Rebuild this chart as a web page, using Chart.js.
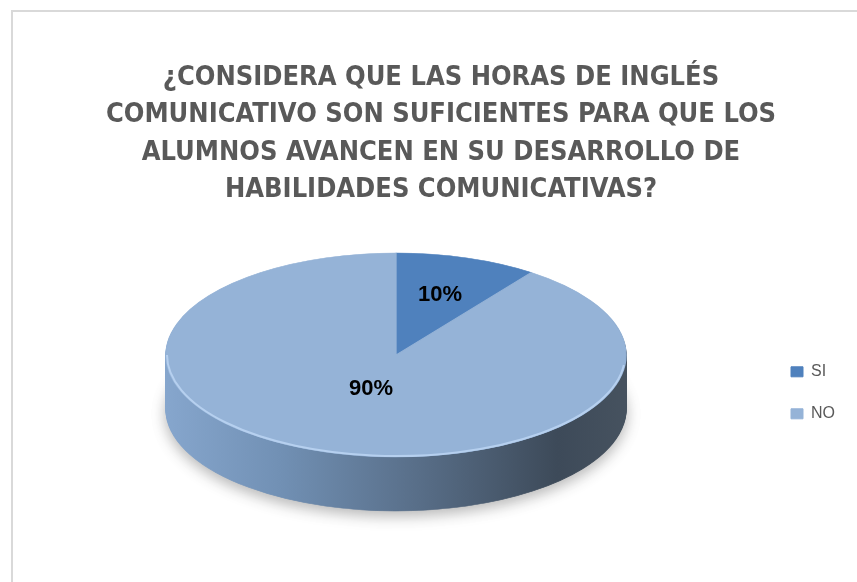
<!DOCTYPE html>
<html>
<head>
<meta charset="utf-8">
<script src="https://cdn.jsdelivr.net/npm/chart.js@4.4.1/dist/chart.umd.min.js"></script>
<style>
    html, body { margin: 0; padding: 0; background: #fff; overflow: hidden; }
    #frame {
        position: absolute;
        left: 11px;
        top: 10px;
        width: 860px;
        height: 600px;
        border-left: 2px solid #d9d9d9;
        border-top: 2px solid #d9d9d9;
    }
    #chart { display: block; }
</style>
</head>
<body>
<div id="frame">
    <canvas id="chart" width="860" height="570"></canvas>
</div>
<script>
// chart data
const titleLines = [
    '¿CONSIDERA QUE LAS HORAS DE INGLÉS',
    'COMUNICATIVO SON SUFICIENTES PARA QUE LOS',
    'ALUMNOS AVANCEN EN SU DESARROLLO DE',
    'HABILIDADES COMUNICATIVAS?'
];
const categories = ['SI', 'NO'];
const percentages = [10, 90];

// look of the 3D pie
const sliceColors = ['#4f81bd', '#95b3d7'];
const PIE = { cx: 383, cy: 343, rx: 230, ry: 102, depth: 54 };

// map the flat circle Chart.js computes onto a tilted ellipse
function tilt(ctx, arc, dy) {
    const r = arc.outerRadius;
    ctx.translate(PIE.cx, PIE.cy + dy);
    ctx.scale(PIE.rx / r, PIE.ry / r);
    ctx.translate(-arc.x, -arc.y);
}

const pie3d = {
    id: 'pie3d',
    beforeDatasetsDraw(chart) {
        const ctx = chart.ctx;
        const arcs = chart.getDatasetMeta(0).data;
        const a0 = arcs[0];
        const r = a0.outerRadius;
        const grad = ctx.createLinearGradient(a0.x - r, 0, a0.x + r, 0);
        grad.addColorStop(0, '#86a6cd');
        grad.addColorStop(0.25, '#7190b4');
        grad.addColorStop(0.55, '#586e88');
        grad.addColorStop(0.85, '#3d4a59');
        grad.addColorStop(1, '#46525f');

        // side wall, stacked from the bottom up
        for (let i = PIE.depth; i >= 1; i--) {
            arcs.forEach(arc => {
                const side = Object.create(arc);
                side.options = Object.assign({}, arc.options, {
                    backgroundColor: grad, borderColor: grad, borderWidth: 1
                });
                ctx.save();
                if (i === PIE.depth) {
                    ctx.shadowColor = 'rgba(0,0,0,0.28)';
                    ctx.shadowBlur = 14;
                    ctx.shadowOffsetY = 5;
                }
                tilt(ctx, arc, i);
                side.draw(ctx);
                ctx.restore();
            });
        }
    },
    beforeDatasetDraw(chart) {
        const ctx = chart.ctx;
        ctx.save();
        tilt(ctx, chart.getDatasetMeta(0).data[0], 0);
    },
    afterDatasetDraw(chart) {
        chart.ctx.restore();
    },
    afterDatasetsDraw(chart) {
        const ctx = chart.ctx;
        const arcs = chart.getDatasetMeta(0).data;
        const total = percentages.reduce((a, b) => a + b, 0);

        // light rim on the front edge of the top face
        ctx.save();
        ctx.strokeStyle = 'rgba(190,215,245,0.8)';
        ctx.lineWidth = 2;
        ctx.beginPath();
        ctx.ellipse(PIE.cx, PIE.cy, PIE.rx - 1, PIE.ry - 1, 0, 0.1, Math.PI);
        ctx.stroke();
        ctx.restore();

        // percentage labels
        ctx.save();
        ctx.font = 'bold 22px "Liberation Sans", Arial, sans-serif';
        ctx.fillStyle = '#000';
        ctx.textAlign = 'center';
        ctx.textBaseline = 'middle';
        arcs.forEach((arc, i) => {
            const mid = (arc.startAngle + arc.endAngle) / 2;
            const f = percentages[i] / total < 0.5 ? 0.62 : 0.35;
            const x = PIE.cx + Math.cos(mid) * f * PIE.rx;
            const y = PIE.cy + Math.sin(mid) * f * PIE.ry;
            ctx.fillText(percentages[i] + '%', x, y);
        });
        ctx.restore();
    }
};

new Chart(document.getElementById('chart'), {
    type: 'pie',
    data: {
        labels: categories,
        datasets: [{
            data: percentages,
            backgroundColor: sliceColors,
            borderColor: sliceColors,
            borderWidth: 1,
            clip: false
        }]
    },
    options: {
        responsive: false,
        animation: false,
        layout: { padding: { left: 24, right: 28, bottom: 15 } },
        plugins: {
            title: {
                display: true,
                text: titleLines,
                color: '#595959',
                font: { family: '"DejaVu Sans Condensed", sans-serif', size: 27, weight: 'bold', lineHeight: '37.4px' },
                padding: { top: 47, bottom: 10 }
            },
            legend: {
                position: 'right',
                fullSize: false,
                labels: {
                    color: '#595959',
                    font: { family: '"Liberation Sans", Arial, sans-serif', size: 16 },
                    boxWidth: 12,
                    boxHeight: 10,
                    padding: 26
                }
            },
            tooltip: { enabled: false }
        }
    },
    plugins: [pie3d]
});
</script>
</body>
</html>
